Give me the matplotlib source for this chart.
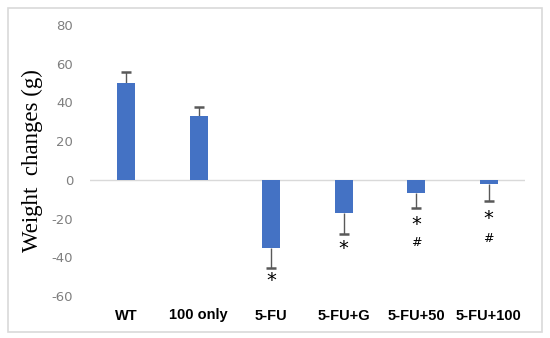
import matplotlib
matplotlib.use("Agg")
from matplotlib import pyplot as plt
from matplotlib.patches import Rectangle

plt.rcParams["axes.unicode_minus"] = False

groups = ["WT", "100 only", "5-FU", "5-FU+G", "5-FU+50", "5-FU+100"]
weight_change = [50, 33, -35, -17, -7, -2]
err = [5.5, 4.8, 10.5, 11, 7.5, 9]
star_y = [None, None, -52, -35.5, -23, -20]
hash_y = [None, None, None, None, -32.5, -30.5]

fig = plt.figure(figsize=(5.5, 3.38), dpi=100)
fig.patch.set_facecolor("white")
fig.patches.append(Rectangle((8 / 550, 6 / 338), 534 / 550, 324 / 338,
                             transform=fig.transFigure, fill=False,
                             edgecolor="#d9d9d9", linewidth=1.2))

ax = fig.add_axes([90 / 550, 42 / 338, 435 / 550, 271 / 338])
x = range(len(groups))
ax.bar(x, weight_change, width=0.25, color="#4472C4", zorder=3)

# one-sided error bars, cap only at the far end
for i, (v, e) in enumerate(zip(weight_change, err)):
    end = v + e if v >= 0 else v - e
    ax.vlines(i, v, end, color="#595959", linewidth=1, zorder=2)
    ax.plot(i, end, marker="_", markersize=7, markeredgewidth=1.8,
            color="#595959", zorder=2)

for i, y in enumerate(star_y):
    if y is not None:
        ax.text(i, y, "*", ha="center", va="center", fontsize=14, color="black")
for i, y in enumerate(hash_y):
    if y is not None:
        ax.text(i, y, "#", ha="center", va="center", fontsize=9, color="black")

ax.axhline(0, color="#d9d9d9", linewidth=1, zorder=1)
ax.set_xlim(-0.5, len(groups) - 0.5)
ax.set_ylim(-60, 80)
ax.set_yticks(range(-60, 81, 20))
ax.set_xticks(list(x))
ax.set_xticklabels(groups, fontweight="bold", fontsize=10.5, family="Liberation Sans")
ax.tick_params(axis="x", length=0, pad=9)
ax.tick_params(axis="y", length=0, pad=12, labelcolor="#7f7f7f", labelsize=9.5)
for s in ax.spines.values():
    s.set_visible(False)

ax.set_ylabel("Weight  changes (g)", family="Liberation Serif", fontsize=16.5)
ax.yaxis.set_label_coords(-0.108, 0.5)

plt.savefig("out.png", dpi=100)
